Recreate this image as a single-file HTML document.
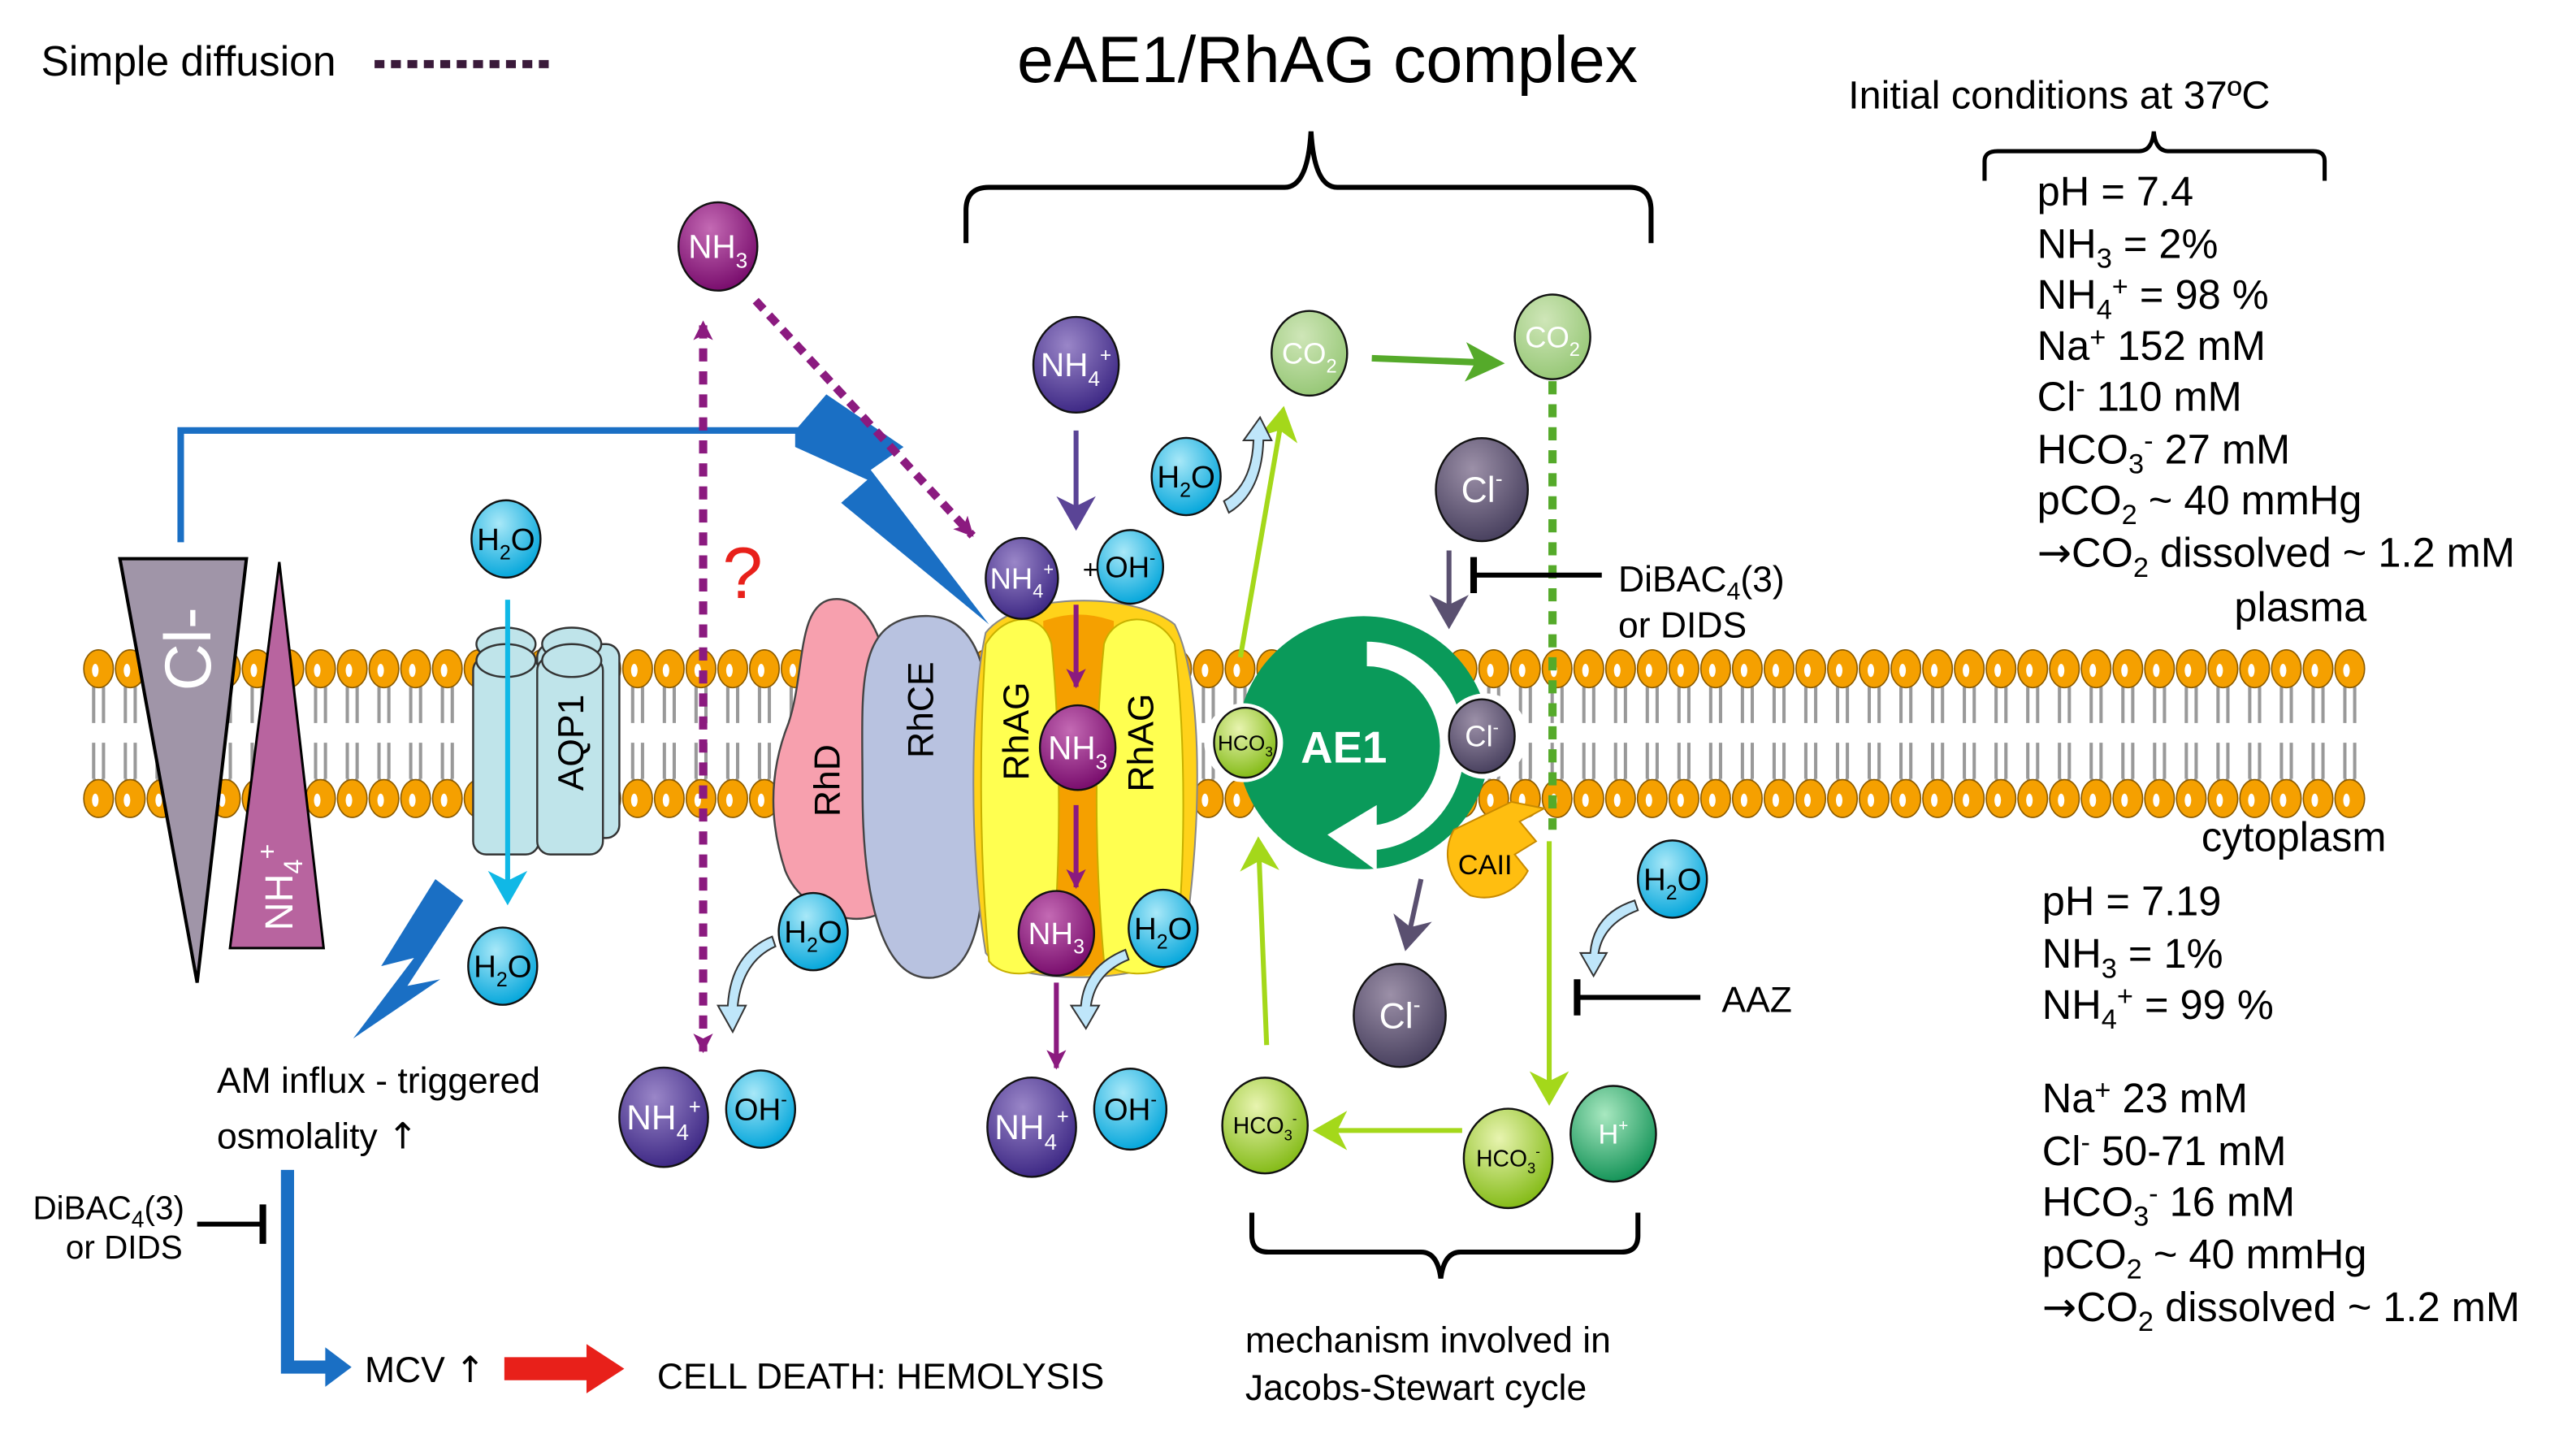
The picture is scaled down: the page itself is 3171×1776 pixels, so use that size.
<!DOCTYPE html>
<html><head><meta charset="utf-8"><style>
html,body{margin:0;padding:0;background:#fff;}
svg{display:block;}
text{font-family:"Liberation Sans",Arial,sans-serif;}
</style></head><body>
<svg id="s" width="3171" height="1776" viewBox="0 0 1568 878.2" preserveAspectRatio="none" xmlns="http://www.w3.org/2000/svg">
<defs>
<radialGradient id="gP" cx="40%" cy="30%" r="70%"><stop offset="0" stop-color="#9a86c8"/><stop offset="1" stop-color="#3f2a86"/></radialGradient>
<radialGradient id="gM" cx="40%" cy="30%" r="70%"><stop offset="0" stop-color="#c46ab4"/><stop offset="1" stop-color="#7a0e6e"/></radialGradient>
<radialGradient id="gC" cx="40%" cy="30%" r="70%"><stop offset="0" stop-color="#a8e8f8"/><stop offset="1" stop-color="#08a8dc"/></radialGradient>
<radialGradient id="gL" cx="40%" cy="30%" r="70%"><stop offset="0" stop-color="#cfe6b8"/><stop offset="1" stop-color="#98c878"/></radialGradient>
<radialGradient id="gY" cx="40%" cy="30%" r="70%"><stop offset="0" stop-color="#e8f4b0"/><stop offset="1" stop-color="#86bc1a"/></radialGradient>
<radialGradient id="gG" cx="40%" cy="30%" r="70%"><stop offset="0" stop-color="#a8e8c0"/><stop offset="1" stop-color="#17955a"/></radialGradient>
<radialGradient id="gD" cx="40%" cy="30%" r="70%"><stop offset="0" stop-color="#9c90a8"/><stop offset="1" stop-color="#4a4260"/></radialGradient>
<marker id="aPu" markerWidth="8" markerHeight="8" refX="6" refY="4" orient="auto" markerUnits="strokeWidth"><path d="M0,0 L7,4 L0,8 L2,4z" fill="#5a4496"/></marker>
<marker id="aMg" markerWidth="14" markerHeight="12" refX="11" refY="6" orient="auto" markerUnits="userSpaceOnUse"><path d="M0,0 L12,6 L0,12 L3,6z" fill="#8b1a7f"/></marker>
<marker id="aMgS" markerWidth="14" markerHeight="12" refX="3" refY="6" orient="auto" markerUnits="userSpaceOnUse"><path d="M12,0 L0,6 L12,12 L9,6z" fill="#8b1a7f"/></marker>
<marker id="aCy" markerWidth="8" markerHeight="8" refX="6" refY="4" orient="auto" markerUnits="strokeWidth"><path d="M0,0 L7,4 L0,8 L2,4z" fill="#10b8e6"/></marker>
<marker id="aLG" markerWidth="8" markerHeight="8" refX="6" refY="4" orient="auto" markerUnits="strokeWidth"><path d="M0,0 L7,4 L0,8 L2,4z" fill="#a4d81a"/></marker>
<marker id="aGr" markerWidth="6" markerHeight="6" refX="5" refY="3" orient="auto" markerUnits="strokeWidth"><path d="M0,0 L6,3 L0,6 L1.5,3z" fill="#55aa2a"/></marker>
<marker id="aGy" markerWidth="8" markerHeight="8" refX="6" refY="4" orient="auto" markerUnits="strokeWidth"><path d="M0,0 L7,4 L0,8 L2,4z" fill="#5a5070"/></marker>
</defs>
<g id="lip"></g>

<text x="25" y="46" font-size="25.5">Simple diffusion</text>
<line x1="228" y1="39" x2="336" y2="39" stroke="#3a1a3a" stroke-width="5" stroke-dasharray="6,4"/>
<text x="808" y="50" font-size="40" text-anchor="middle">eAE1/RhAG complex</text>
<path d="M588,148 V128 Q588,114 602,114 H782 Q796,114 798,80 Q800,114 814,114 H992 Q1005,114 1005,128 V148" fill="none" stroke="#000" stroke-width="3"/>
<text x="1125" y="66" font-size="24">Initial conditions at 37ºC</text>
<path d="M1208,110 V98 Q1208,92 1216,92 H1302 Q1310,92 1311,80 Q1312,92 1320,92 H1408 Q1415,92 1415,98 V110" fill="none" stroke="#000" stroke-width="2.5"/>
<g font-size="25">
<text x="1240" y="125">pH = 7.4</text>
<text x="1240" y="157">NH<tspan font-size="17" dy="6">3</tspan><tspan dy="-6"> = 2%</tspan></text>
<text x="1240" y="188">NH<tspan font-size="17" dy="6">4</tspan><tspan font-size="17" dy="-14">+</tspan><tspan dy="8"> = 98 %</tspan></text>
<text x="1240" y="219">Na<tspan font-size="17" dy="-8">+</tspan><tspan dy="8"> 152 mM</tspan></text>
<text x="1240" y="250">Cl<tspan font-size="17" dy="-8">-</tspan><tspan dy="8"> 110 mM</tspan></text>
<text x="1240" y="282">HCO<tspan font-size="17" dy="6">3</tspan><tspan font-size="17" dy="-14">-</tspan><tspan dy="8"> 27 mM</tspan></text>
<text x="1240" y="313">pCO<tspan font-size="17" dy="6">2</tspan><tspan dy="-6"> ~ 40 mmHg</tspan></text>
<text x="1240" y="345"><tspan font-family="DejaVu Sans">→</tspan>CO<tspan font-size="17" dy="6">2</tspan><tspan dy="-6"> dissolved ~ 1.2 mM</tspan></text>
<text x="1360" y="378">plasma</text>
<text x="1340" y="518">cytoplasm</text>
<text x="1243" y="557">pH = 7.19</text>
<text x="1243" y="589">NH<tspan font-size="17" dy="6">3</tspan><tspan dy="-6"> = 1%</tspan></text>
<text x="1243" y="620">NH<tspan font-size="17" dy="6">4</tspan><tspan font-size="17" dy="-14">+</tspan><tspan dy="8"> = 99 %</tspan></text>
<text x="1243" y="677">Na<tspan font-size="17" dy="-8">+</tspan><tspan dy="8"> 23 mM</tspan></text>
<text x="1243" y="709">Cl<tspan font-size="17" dy="-8">-</tspan><tspan dy="8"> 50-71 mM</tspan></text>
<text x="1243" y="740">HCO<tspan font-size="17" dy="6">3</tspan><tspan font-size="17" dy="-14">-</tspan><tspan dy="8"> 16 mM</tspan></text>
<text x="1243" y="772">pCO<tspan font-size="17" dy="6">2</tspan><tspan dy="-6"> ~ 40 mmHg</tspan></text>
<text x="1243" y="804"><tspan font-family="DejaVu Sans">→</tspan>CO<tspan font-size="17" dy="6">2</tspan><tspan dy="-6"> dissolved ~ 1.2 mM</tspan></text>
</g>

<polygon points="73,340 150,340 120,598" fill="#a095a8" stroke="#000" stroke-width="2"/>
<text transform="translate(128,395) rotate(-90)" font-size="40" fill="#fff" text-anchor="middle">Cl-</text>
<polygon points="170,342 140,577 197,577" fill="#b8649f" stroke="#000" stroke-width="1.5"/>
<text transform="translate(178,540) rotate(-90)" font-size="24" fill="#fff" text-anchor="middle">NH<tspan font-size="16" dy="6">4</tspan><tspan font-size="16" dy="-16">+</tspan></text>

<polyline points="110,330 110,262 490,262" fill="none" stroke="#1a6fc4" stroke-width="4"/>
<polygon points="484,262 503,240 550,272 530,286 602,380 512,306 528,292 484,272" fill="#1a6fc4"/>
<polygon points="265,535 232,588 252,583 215,632 268,596 248,600 282,548" fill="#1a6fc4"/>

<g stroke="#333" stroke-width="1.2" fill="#bfe4ea">
<rect x="327" y="392" width="50" height="118" rx="8"/>
<rect x="288" y="400" width="40" height="120" rx="8"/>
<rect x="327" y="400" width="40" height="120" rx="8"/>
<ellipse cx="308" cy="392" rx="18" ry="10"/><ellipse cx="348" cy="392" rx="18" ry="10"/>
<ellipse cx="308" cy="402" rx="18" ry="10"/><ellipse cx="348" cy="402" rx="18" ry="10"/>
</g>
<text transform="translate(355,452) rotate(-90)" font-size="22" text-anchor="middle">AQP1</text>
<line x1="309" y1="365" x2="309" y2="548" stroke="#10b8e6" stroke-width="3" marker-end="url(#aCy)"/>

<text x="132" y="665" font-size="22">AM influx - triggered</text>
<text x="132" y="699" font-size="22">osmolality <tspan font-family="DejaVu Sans">↑</tspan></text>
<polyline points="175,712 175,832 200,832" fill="none" stroke="#1a6fc4" stroke-width="8"/>
<polygon points="198,820 214,832 198,844" fill="#1a6fc4"/>
<text x="20" y="742" font-size="20">DiBAC<tspan font-size="14" dy="5">4</tspan><tspan dy="-5">(3)</tspan></text>
<text x="40" y="766" font-size="20">or DIDS</text>
<line x1="120" y1="745" x2="160" y2="745" stroke="#000" stroke-width="3"/>
<line x1="160" y1="733" x2="160" y2="757" stroke="#000" stroke-width="4"/>
<text x="222" y="841" font-size="22">MCV <tspan font-family="DejaVu Sans">↑</tspan></text>
<polygon points="307,826 357,826 357,818 380,833 357,848 357,840 307,840" fill="#e8201a"/>
<text x="400" y="845" font-size="22">CELL DEATH: HEMOLYSIS</text>

<line x1="428" y1="198" x2="428" y2="640" stroke="#8b1a7f" stroke-width="5" stroke-dasharray="8,6" marker-end="url(#aMg)" marker-start="url(#aMgS)"/>
<line x1="460" y1="183" x2="592" y2="326" stroke="#8b1a7f" stroke-width="5" stroke-dasharray="7,5" marker-end="url(#aMg)"/>
<text x="452" y="364" font-size="44" fill="#e8201a" text-anchor="middle">?</text>

<path d="M505,365 C530,360 545,400 540,440 C535,470 550,520 545,545 C535,570 490,560 478,530 C468,500 468,470 480,440 C490,410 485,370 505,365z" fill="#f7a0ae" stroke="#444" stroke-width="1.2"/>
<text transform="translate(511,475) rotate(-90)" font-size="22" text-anchor="middle">RhD</text>
<path d="M560,375 C600,372 605,420 600,470 C598,520 605,590 568,595 C535,598 525,540 525,480 C525,420 520,378 560,375z" fill="#b8c2e0" stroke="#444" stroke-width="1.2"/>
<text transform="translate(568,432) rotate(-90)" font-size="22" text-anchor="middle">RhCE</text>
<path d="M600,385 C620,360 690,360 715,380 C735,420 730,520 720,578 C700,600 615,600 600,580 C590,520 590,430 600,385z" fill="#ffd21a" stroke="#888" stroke-width="1"/>
<path d="M635,378 Q656,370 678,378 L672,590 Q656,598 640,590z" fill="#f5a000"/>
<path d="M600,392 C612,372 635,372 640,392 C646,450 646,530 640,585 C630,595 610,595 602,585 C596,520 596,450 600,392z" fill="#ffff50" stroke="#c8b000" stroke-width="1"/>
<path d="M672,392 C678,372 705,372 715,392 C722,450 722,530 715,585 C705,595 680,595 672,585 C666,520 666,450 672,392z" fill="#ffff50" stroke="#c8b000" stroke-width="1"/>
<text transform="translate(626,445) rotate(-90)" font-size="22" text-anchor="middle">RhAG</text>
<text transform="translate(702,452) rotate(-90)" font-size="22" text-anchor="middle">RhAG</text>
<line x1="655" y1="368" x2="655" y2="418" stroke="#8b1a7f" stroke-width="3" marker-end="url(#aMg)"/>
<line x1="655" y1="490" x2="655" y2="540" stroke="#8b1a7f" stroke-width="3" marker-end="url(#aMg)"/>

<circle cx="830" cy="452" r="77" fill="#0a9a5a"/>
<circle cx="757" cy="452" r="24" fill="#fff"/>
<circle cx="904" cy="448" r="26" fill="#fff"/>
<path d="M832,398 A52,56 0 0 1 832,510" fill="none" stroke="#fff" stroke-width="15"/>
<polygon points="838,490 838,530 808,508" fill="#fff"/>
<text x="818" y="464" font-size="27" font-weight="bold" fill="#fff" text-anchor="middle">AE1</text>
<path d="M885,505 A30,30 0 0 0 895,545 A30,30 0 0 0 930,530 L922,520 L935,512 L925,500 L940,492 L920,488z" fill="#ffbe10" stroke="#c88a00" stroke-width="1"/>
<text x="904" y="532" font-size="17" text-anchor="middle">CAII</text>

<line x1="755" y1="400" x2="781" y2="250" stroke="#a4d81a" stroke-width="3" marker-end="url(#aLG)"/>
<line x1="835" y1="218" x2="912" y2="221" stroke="#55aa2a" stroke-width="4" marker-end="url(#aGr)"/>
<line x1="945" y1="232" x2="945" y2="505" stroke="#55aa2a" stroke-width="5" stroke-dasharray="8,6"/>
<line x1="943" y1="512" x2="943" y2="670" stroke="#a4d81a" stroke-width="3" marker-end="url(#aLG)"/>
<line x1="890" y1="688" x2="802" y2="688" stroke="#a4d81a" stroke-width="3" marker-end="url(#aLG)"/>
<line x1="771" y1="636" x2="766" y2="512" stroke="#a4d81a" stroke-width="3" marker-end="url(#aLG)"/>
<line x1="882" y1="335" x2="882" y2="380" stroke="#5a5070" stroke-width="3" marker-end="url(#aGy)"/>
<line x1="865" y1="535" x2="856" y2="576" stroke="#5a5070" stroke-width="3" marker-end="url(#aGy)"/>
<line x1="655" y1="262" x2="655" y2="320" stroke="#5a4496" stroke-width="3" marker-end="url(#aPu)"/>
<line x1="643" y1="598" x2="643" y2="650" stroke="#8b1a7f" stroke-width="3" marker-end="url(#aMg)"/>
<line x1="975" y1="350" x2="897" y2="350" stroke="#000" stroke-width="3"/>
<line x1="897" y1="339" x2="897" y2="361" stroke="#000" stroke-width="4"/>
<text x="985" y="360" font-size="22">DiBAC<tspan font-size="15" dy="5">4</tspan><tspan dy="-5">(3)</tspan></text>
<text x="985" y="388" font-size="22">or DIDS</text>
<line x1="1035" y1="607" x2="960" y2="607" stroke="#000" stroke-width="3"/>
<line x1="960" y1="596" x2="960" y2="618" stroke="#000" stroke-width="4"/>
<text x="1048" y="616" font-size="22">AAZ</text>
<path d="M762,738 V752 Q762,762 772,762 H865 Q875,762 877,778 Q879,762 889,762 H987 Q997,762 997,752 V738" fill="none" stroke="#000" stroke-width="3"/>
<text x="758" y="823" font-size="22">mechanism involved in</text>
<text x="758" y="852" font-size="22">Jacobs-Stewart cycle</text>

<g fill="#bfe6fa" stroke="#333" stroke-width="1">
<path d="M470,570 Q445,580 443,612 L437,612 L446,628 L454,612 L449,612 Q452,585 472,576z"/>
<path d="M685,578 Q660,588 658,612 L652,612 L661,626 L669,612 L664,612 Q667,592 687,584z"/>
<path d="M745,305 Q762,295 763,268 L757,268 L767,254 L774,268 L769,268 Q768,300 748,312z"/>
<path d="M995,548 Q970,556 968,580 L962,580 L970,594 L978,580 L973,580 Q976,562 997,554z"/>
</g>

<g id="balls"></g>
</svg>
<script>
var NS="http://www.w3.org/2000/svg";
var lip=document.getElementById('lip');
function el(p,t,a){var e=document.createElementNS(NS,t);for(var k in a)e.setAttribute(k,a[k]);p.appendChild(e);return e;}
for(var x=60;x<=1445;x+=19.3){
 el(lip,'path',{d:'M'+(x-3)+',418 V440 M'+(x+3)+',418 V440 M'+(x-3)+',418 Q'+x+',414 '+(x+3)+',418 M'+(x-3)+',474 V452 M'+(x+3)+',474 V452 M'+(x-3)+',474 Q'+x+',478 '+(x+3)+',474',stroke:'#999',fill:'none','stroke-width':2});
 el(lip,'ellipse',{cx:x,cy:407,rx:9,ry:11.5,fill:'#f5a000',stroke:'#8a5a00','stroke-width':0.8});
 el(lip,'ellipse',{cx:x-2,cy:408,rx:2,ry:4,fill:'#fff'});
 el(lip,'ellipse',{cx:x,cy:486,rx:9,ry:11.5,fill:'#f5a000',stroke:'#8a5a00','stroke-width':0.8});
 el(lip,'ellipse',{cx:x-2,cy:487,rx:2,ry:4,fill:'#fff'});
}
var B=document.getElementById('balls');
function ball(cx,cy,r,g,main,sub,sup,col,fs,after){
 el(B,'ellipse',{cx:cx,cy:cy,rx:r,ry:r*1.12,fill:'url(#'+g+')',stroke:'#111','stroke-width':1.2});
 var t=el(B,'text',{x:cx,y:cy+fs*0.35,'font-size':fs,fill:col,'text-anchor':'middle'});
 t.appendChild(document.createTextNode(main));
 if(sub){var s=el(t,'tspan',{'font-size':fs*0.65,dy:fs*0.3});s.appendChild(document.createTextNode(sub));}
 if(after){var a=el(t,'tspan',{dy:-fs*0.3});a.appendChild(document.createTextNode(after));}
 if(sup){var u=el(t,'tspan',{'font-size':fs*0.6,dy:-fs*(sub?0.75:0.45)});u.appendChild(document.createTextNode(sup));}
}
function h2o(cx,cy){ball(cx,cy,21,'gC','H','2','','#000',19,'O');}
ball(437,150,24,'gM','NH','3','','#fff',20);
ball(404,680,27,'gP','NH','4','+','#fff',21);
ball(463,675,21,'gC','OH','','-','#000',19);
h2o(495,567);h2o(308,328);h2o(306,588);
ball(655,222,26,'gP','NH','4','+','#fff',20);
ball(622,352,22,'gP','NH','4','+','#fff',18);
ball(688,345,20,'gC','OH','','-','#000',18);
el(B,'text',{x:659,y:352,'font-size':16}).textContent='+';
ball(656,455,23,'gM','NH','3','','#fff',20);
ball(643,568,23,'gM','NH','3','','#fff',19);
h2o(708,565);
ball(628,686,27,'gP','NH','4','+','#fff',21);
ball(688,675,22,'gC','OH','','-','#000',19);
h2o(722,290);
ball(797,215,23,'gL','CO','2','','#fff',18);
ball(945,205,23,'gL','CO','2','','#fff',18);
ball(902,298,28,'gD','Cl','','-','#fff',22);
ball(758,452,19,'gY','HCO','3','','#000',13);
ball(902,448,20,'gD','Cl','','-','#fff',18);
ball(852,618,28,'gD','Cl','','-','#fff',22);
h2o(1018,535);
ball(982,690,26,'gG','H','','+','#fff',17);
ball(918,705,27,'gY','HCO','3','-','#000',14);
ball(770,685,26,'gY','HCO','3','-','#000',14);
</script>
</body></html>
